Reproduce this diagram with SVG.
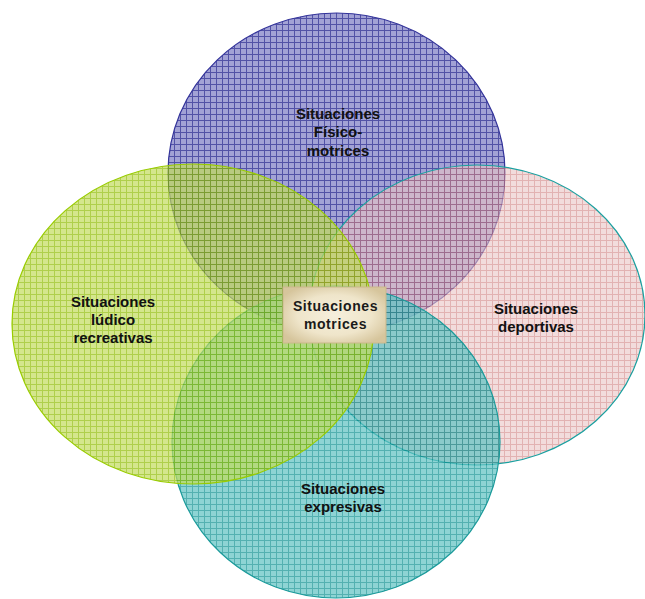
<svg xmlns="http://www.w3.org/2000/svg" width="645" height="599" viewBox="0 0 645 599">
  <style>
    .lbl { font-family: "Liberation Sans", Arial, sans-serif; font-weight: bold; font-size: 15px; fill: #111; text-anchor: middle; }
    .ctr { font-family: "Liberation Sans", Arial, sans-serif; font-weight: bold; font-size: 14px; fill: #1a1a1a; text-anchor: middle; letter-spacing: 0.6px; }
  </style>
  <defs>
    <pattern id="gBlue" width="6" height="6" patternUnits="userSpaceOnUse">
      <rect width="6" height="6" fill="#a2a2d5"/>
      <path d="M0 0.5H6M0.5 0V6" stroke="#5252a6" stroke-width="1"/>
    </pattern>
    <pattern id="gPink" width="6" height="6" patternUnits="userSpaceOnUse">
      <rect width="6" height="6" fill="#eac4c4"/>
      <path d="M0 0.5H6M0.5 0V6" stroke="#cf7e7e" stroke-width="1"/>
    </pattern>
    <pattern id="gTeal" width="6" height="6" patternUnits="userSpaceOnUse">
      <rect width="6" height="6" fill="#5ec2c2"/>
      <path d="M0 0.5H6M0.5 0V6" stroke="#0a8f8f" stroke-width="1"/>
    </pattern>
    <pattern id="gGreen" width="6" height="6" patternUnits="userSpaceOnUse">
      <rect width="6" height="6" fill="#c2db5c"/>
      <path d="M0 0.5H6M0.5 0V6" stroke="#8cbb00" stroke-width="1"/>
    </pattern>
    <radialGradient id="boxGrad" cx="50%" cy="50%" r="60%">
      <stop offset="0" stop-color="#f6efdc"/>
      <stop offset="0.6" stop-color="#efe5ca"/>
      <stop offset="1" stop-color="#d6c59c"/>
    </radialGradient>
  </defs>

  <g id="fisico">
    <ellipse cx="336.5" cy="173" rx="168.5" ry="160" fill="url(#gBlue)"/>
    <ellipse cx="336.5" cy="173" rx="168.5" ry="160" fill="none" stroke="#33339a" stroke-width="1.2"/>
  </g>
  <g id="deportivas">
    <ellipse cx="477" cy="315" rx="168" ry="150" fill="url(#gPink)" opacity="0.6"/>
    <ellipse cx="477" cy="315" rx="168" ry="150" fill="none" stroke="#1aa0a0" stroke-width="1.2"/>
  </g>
  <g id="expresivas">
    <ellipse cx="336" cy="442" rx="164" ry="156" fill="url(#gTeal)" opacity="0.7"/>
    <ellipse cx="336" cy="442" rx="164" ry="156" fill="none" stroke="#1a9a9a" stroke-width="1.2"/>
  </g>
  <g id="ludico">
    <ellipse cx="193" cy="324" rx="181" ry="160" fill="url(#gGreen)" opacity="0.7"/>
    <ellipse cx="193" cy="324" rx="181" ry="160" fill="none" stroke="#99cc00" stroke-width="1.2"/>
  </g>

  <g id="labels">
    <text class="lbl" x="338" y="119">Situaciones</text>
    <text class="lbl" x="338" y="137">Físico-</text>
    <text class="lbl" x="338" y="156">motrices</text>

    <text class="lbl" x="113" y="307">Situaciones</text>
    <text class="lbl" x="113" y="325">lúdico</text>
    <text class="lbl" x="113" y="343">recreativas</text>

    <text class="lbl" x="536" y="314">Situaciones</text>
    <text class="lbl" x="536" y="332">deportivas</text>

    <text class="lbl" x="343" y="494">Situaciones</text>
    <text class="lbl" x="343" y="512">expresivas</text>
  </g>

  <g id="motrices">
    <rect x="283" y="287" width="103" height="56" fill="url(#boxGrad)" stroke="#cbb88c" stroke-width="1"/>
    <text class="ctr" x="335.5" y="311">Situaciones</text>
    <text class="ctr" x="335.5" y="329">motrices</text>
  </g>
</svg>
